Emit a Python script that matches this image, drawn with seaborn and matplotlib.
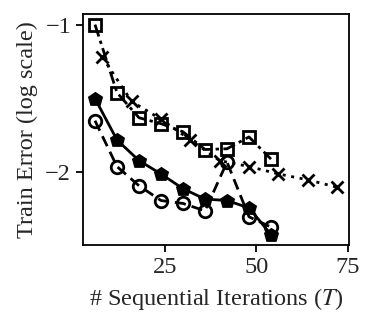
import numpy as np
import pandas as pd
import matplotlib
matplotlib.use("Agg")
import matplotlib.pyplot as plt
import seaborn as sns

# ------------------------------------------
# Data (log10 train error vs sequential iterations)
# ------------------------------------------

t_six = [6, 12, 18, 24, 30, 36, 42, 48, 54]
t_eight = [8, 16, 24, 32, 40, 48, 56, 64, 72]

err_square = [-1.00, -1.46, -1.63, -1.67, -1.725, -1.845, -1.84, -1.76, -1.91]
err_cross = [-1.22, -1.52, -1.64, -1.78, -1.92, -1.96, -2.01, -2.05, -2.10]
err_pent = [-1.50, -1.78, -1.92, -2.01, -2.11, -2.18, -2.19, -2.24, -2.42]
err_circle = [-1.65, -1.96, -2.09, -2.19, -2.21, -2.26, -1.93, -2.30, -2.37]

xticks = [25, 50, 75]
yticks = [-1, -2]

# ------------------------------------------
# Style
# ------------------------------------------

sns.set_style("ticks")
plt.rcParams["font.family"] = ["Liberation Serif", "DejaVu Serif"]
plt.rcParams["mathtext.fontset"] = "stix"
plt.rcParams["axes.linewidth"] = 1.3

fig = plt.figure(figsize=(3.75, 3.28), dpi=100)
ax = fig.add_axes([0.221, 0.253, 0.71, 0.704])

common = dict(color="black", linewidth=2.0, markersize=9, markeredgewidth=2.0, sort=False)

sns.lineplot(x=t_six, y=err_square, ax=ax, marker="s", markerfacecolor="none",
             markeredgecolor="black", **common)
ax.lines[-1].set_dashes([4.5, 1.6, 1.2, 1.6])

sns.lineplot(x=t_eight, y=err_cross, ax=ax, marker="x", markeredgecolor="black",
             **common)
ax.lines[-1].set_dashes([1.1, 2.0])

sns.lineplot(x=t_six, y=err_pent, ax=ax, marker="p", markerfacecolor="black",
             markeredgecolor="black", **common)

sns.lineplot(x=t_six, y=err_circle, ax=ax, marker="o", markerfacecolor="none",
             markeredgecolor="black", **common)
ax.lines[-1].set_dashes([4.0, 2.2])

ax.set_xticks(xticks)
ax.set_yticks(yticks)
ax.tick_params(axis="both", labelsize=17.5, length=5, width=1.3, color="black", pad=3.5)
for s in ax.spines.values():
    s.set_visible(True)
    s.set_color("black")

ax.set_xlabel("# Sequential Iterations ($T$)", fontsize=17.5, labelpad=6)
ax.set_ylabel("Train Error (log scale)", fontsize=17.5, labelpad=5)

fig.savefig("out.png", dpi=100)
